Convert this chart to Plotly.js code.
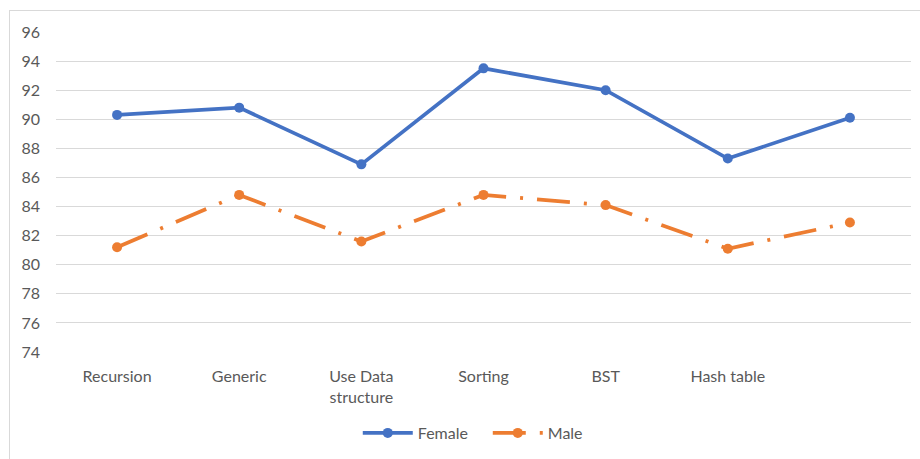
<!DOCTYPE html>
<html>
<head>
<meta charset="utf-8">
<script src="https://cdn.plot.ly/plotly-3.0.1.min.js"></script>
<style>
  html, body { margin: 0; padding: 0; background: #fff; }
  #wrap { position: relative; width: 920px; height: 459px; overflow: hidden; }
  #chart { position: absolute; left: 0; top: 0; width: 920px; height: 459px; }
  #frame { position: absolute; left: 9px; top: 10px; width: 930px; height: 460px;
           border: 1px solid #d9d9d9; pointer-events: none; }
</style>
</head>
<body>
<div id="wrap">
  <div id="chart"></div>
  <div id="frame"></div>
</div>
<script>
const categories = ["Recursion", "Generic", "Use Data<br>structure", "Sorting", "BST", "Hash table", ""];
const female = [90.3, 90.8, 86.9, 93.5, 92.0, 87.3, 90.1];
const male = [81.2, 84.8, 81.6, 84.8, 84.1, 81.1, 82.9];
const yTicks = [74, 76, 78, 80, 82, 84, 86, 88, 90, 92, 94, 96];

const idx = categories.map((_, i) => i);

const traces = [
  {
    x: idx, y: female, name: "Female", type: "scatter", mode: "lines+markers",
    line: { color: "#4472C4", width: 3.75 },
    marker: { color: "#4472C4", size: 10 }
  },
  {
    x: idx, y: male, name: "Male", type: "scatter", mode: "lines+markers",
    line: { color: "#ED7D31", width: 3.75, dash: "33px,14px,3px,14px" },
    marker: { color: "#ED7D31", size: 10 }
  }
];

const layout = {
  width: 920, height: 459,
  margin: { l: 56, r: 9, t: 32, b: 101 },
  paper_bgcolor: "#fff", plot_bgcolor: "#fff",
  font: { family: "Lato, 'Open Sans', sans-serif", size: 16, color: "#595959" },
  showlegend: true,
  legend: { orientation: "h", x: 0.505, xanchor: "center", y: -0.2, yanchor: "top",
            itemwidth: 50, entrywidth: 65,
            font: { size: 16, color: "#595959" } },
  xaxis: {
    type: "linear", range: [-0.5, 6.5],
    tickmode: "array", tickvals: idx, ticktext: categories,
    showgrid: false, zeroline: false, showline: false, ticks: "",
    ticklabelstandoff: 13, fixedrange: true, automargin: false
  },
  yaxis: {
    range: [74, 96], tickmode: "array", tickvals: yTicks,
    showgrid: true, gridcolor: "#d9d9d9", gridwidth: 1,
    zeroline: false, showline: false, ticks: "",
    ticklabelstandoff: 15, fixedrange: true, automargin: false
  }
};

Plotly.newPlot("chart", traces, layout, { displayModeBar: false, staticPlot: true });
</script>
</body>
</html>
